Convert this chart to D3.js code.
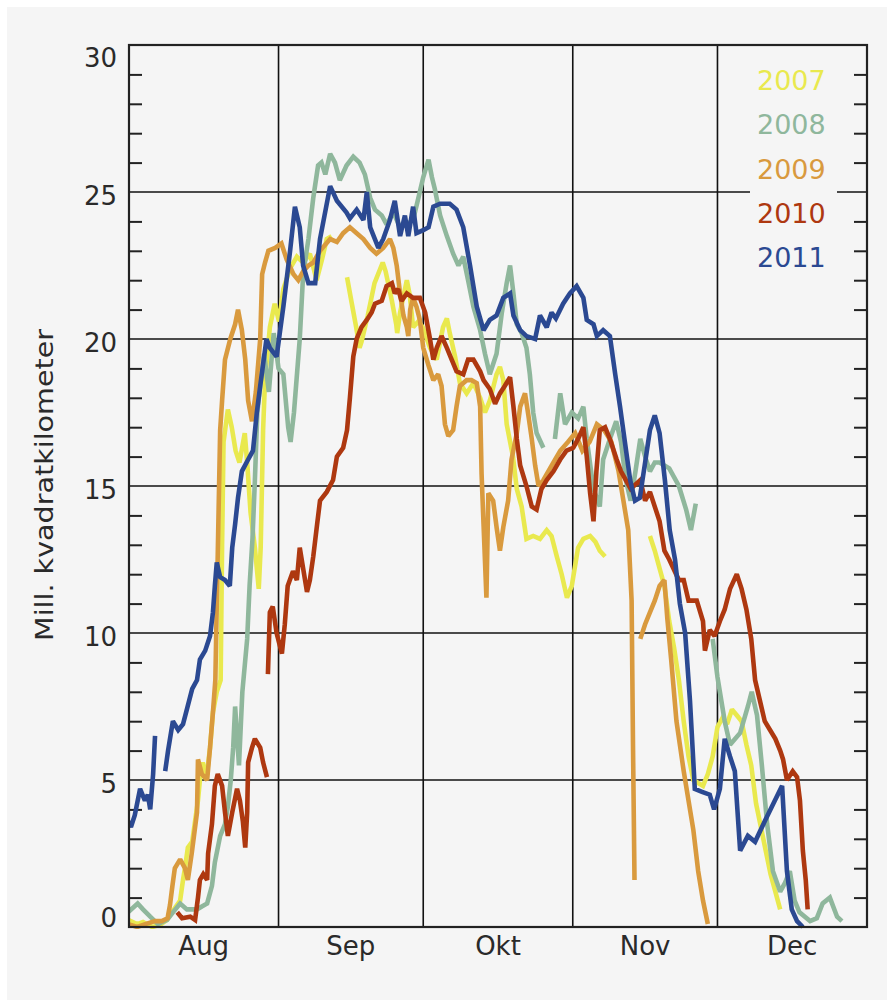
<!DOCTYPE html>
<html><head><meta charset="utf-8">
<script src="https://cdn.jsdelivr.net/npm/d3@7"></script>
<style>
html,body{margin:0;padding:0;background:#fff;}
svg{display:block;}
text{font-family:"DejaVu Sans",sans-serif;}
</style></head>
<body>
<svg id="chart" width="887" height="1000"></svg>
<script>
const months = ["Aug","Sep","Okt","Nov","Dec"];
const monthDays = [31,30,31,30,31];
const years = ["2007","2008","2009","2010","2011"];
const colors = ["#e9e94e","#8fb79c","#d99a3e","#ae3810","#2b4992"];
const yMajor = [0,5,10,15,20,25,30];
const yTitle = "Mill. kvadratkilometer";

const s2007 = [[-0.2,0.24],[1.7,0.1],[2.9,0.17],[4.8,0],[6.4,0.07],[7.9,0.24],[8.9,0.5],[10.6,0.9],[11.2,1.6],[11.6,2],[12.2,2.7],[13.1,2.9],[13.7,3.6],[14.3,4.3],[14.7,5],[15.3,5.6],[16,5.0],[16.8,6.1],[17.4,7.3],[18.2,8],[19,8.4],[19.3,13],[19.6,16.5],[20.5,17.6],[21.3,17],[22.1,16.2],[22.9,15.8],[24,16.8],[24.5,15.8],[25.2,14.1],[26.1,12.9],[26.9,11.5],[27.3,12.9],[27.8,16.9],[28.2,18.6],[29.2,20.4],[30.2,21.2],[31.1,20.6],[32,21.7],[33.4,22.4],[34.8,22.8],[36.1,22.6],[37.5,22.9],[38.9,22.0],[40,22.7],[41,23.4],[42,23.5],[43,null],[45.2,22.1],[46.2,21.2],[47.1,20.4],[47.8,19.7],[48.2,19.9],[49.5,20.8],[50.9,21.9],[52.6,22.6],[53.2,22.3],[54.5,21.3],[55.4,20.5],[55.6,20.2],[56.2,20.9],[57.6,22.0],[58.2,21.5],[58.9,20.4],[60,20.6],[60.9,20.4],[62.4,19.7],[63.8,19.3],[65.1,20.4],[65.9,20.7],[66.5,20.2],[67.6,19.4],[68.6,18.5],[70,18.15],[71.4,18.5],[72.8,18.0],[73.8,17.5],[74.8,17.9],[76.2,18.8],[76.9,19.05],[77.6,18.6],[78.3,17.1],[79.6,16],[80.4,14.9],[81.4,14.3],[82.4,13.2],[83.8,13.3],[85.2,13.2],[86.6,13.5],[87.6,13.3],[88.7,12.6],[89.7,12],[90.8,11.2],[91.8,11.6],[93.1,12.9],[94.2,13.2],[95.6,13.3],[96.7,13.1],[97.6,12.8],[98.7,12.6],[100,null],[108,13.3],[109,12.8],[110,12.2],[111,11.6],[112,10.4],[113,9.5],[114,8.4],[115,7],[116,5.8],[117,5],[118,4.9],[119,4.8],[120,5.2],[121,5.8],[122,6.8],[123,7.1],[124,6.9],[125,7.4],[126,7.2],[127,7.0],[128,6.2],[129,5.5],[130,4.2],[131,3.4],[132,2.6],[133,1.8],[134,1.2],[135,0.6]];

const s2008 = [[-0.2,0.5],[1.8,0.8],[2.9,0.6],[4.4,0.35],[6,0.1],[7.9,0.24],[9.1,0.5],[10.6,0.8],[12,0.6],[14.1,0.6],[15.1,0.7],[16.2,0.8],[17.2,1.4],[17.8,2.2],[18.9,3.1],[19.9,3.5],[20.5,4.1],[21.1,5],[21.6,6.1],[22,7.5],[22.8,5.5],[23.5,8],[24.5,9.8],[25,11.6],[25.6,13.2],[26.1,15.2],[26.6,17.5],[27.2,18.4],[28,19.5],[29,18.2],[30,20.2],[31,19],[32,18.8],[33,17],[33.5,16.5],[34.2,17.5],[35.4,20],[36.1,22.2],[37.2,23.4],[38.2,24.8],[39.2,25.9],[39.9,26],[40.7,25.6],[41.7,26.3],[42.7,26],[43.7,25.4],[45.1,25.9],[46.5,26.2],[47.8,26],[48.9,25.6],[50,24.8],[51,24.4],[52.4,24.2],[53.4,23.9],[54.8,24.3],[56.2,23.8],[57.6,23.9],[58.9,24.05],[60,24.8],[61,25.5],[62.1,26.1],[62.8,25.5],[63.4,25.1],[64.5,24.2],[65.9,23.5],[67.2,22.9],[68.3,22.5],[69.3,22.8],[70.3,22],[71.4,21.1],[72.8,20.3],[73.8,19.5],[74.8,18.8],[76.2,19.5],[77.3,20.9],[78.3,21.9],[79,22.5],[79.7,21.55],[80.4,20.5],[81.4,20.2],[82.4,19.7],[83.1,18.8],[83.8,17.5],[84.5,16.8],[85.9,16.3],[87,null],[88.3,16.6],[89.4,18.15],[90.4,17.1],[91.8,17.5],[93.1,17.3],[94.2,17.7],[94.9,16.6],[96.3,14.9],[97.6,14.3],[98.3,15.9],[99.7,16.6],[101,17.2],[102,16.5],[103,15.2],[104,14.5],[105,15.5],[106,16.6],[107,16],[108,15.5],[109,15.8],[110,15.8],[112,15.6],[114,15],[115.5,14.2],[116.5,13.5],[117.5,14.4],[119,null],[121,9.8],[122,8.5],[123.5,7],[124.6,6.2],[126.7,6.6],[128.3,7.5],[129.1,8],[130.2,7.2],[131.2,5.5],[132.3,3.5],[133.5,1.9],[135,1.2],[136,1.5],[137,1.9],[138,0.9],[139,0.5],[141.2,0.2],[142.6,0.3],[143.8,0.8],[145.3,1.0],[146.8,0.35],[147.8,0.2]];

const s2009 = [[-0.2,0.1],[1.7,0],[3.4,0.1],[5.4,0.2],[6.8,0.2],[8,0.3],[8.5,0.75],[9,1.4],[9.5,2.0],[10.6,2.3],[11.6,2.0],[12.2,1.6],[13,2.5],[14.1,3.9],[14.3,5.7],[15.1,5.2],[16.2,5.0],[16.8,6.1],[17.4,7.3],[17.9,8.4],[18.2,11],[18.9,16.9],[19.3,17.9],[19.9,19.3],[21,20],[22,20.5],[22.6,21],[23.4,20.3],[24.1,19.3],[24.7,17.9],[25.5,17.2],[26.3,18.2],[27.2,20.0],[27.6,22.2],[28.2,22.6],[28.9,23.0],[30.3,23.1],[31.6,23.25],[32.7,22.7],[34.1,22.2],[35.1,22],[36.1,22.3],[37.2,22.5],[38.2,22.6],[39.6,23],[41.7,23.4],[43.1,23.3],[44.4,23.6],[45.8,23.8],[47.2,23.6],[48.6,23.4],[50,23.1],[51.3,22.9],[52.7,23.1],[54.1,23.4],[54.8,23.1],[55.5,22.5],[56.2,21.55],[56.9,20.8],[57.6,20.4],[57.9,20.1],[58.3,21.0],[58.9,21.4],[59.6,21.1],[60.3,20.65],[61,19.7],[62.1,19.1],[63.1,18.6],[64.1,18.8],[64.8,18.4],[65.5,17.1],[66.2,16.7],[67.2,16.9],[67.9,17.7],[68.6,18.4],[70,18.6],[71,18.6],[72.1,18.5],[72.8,17.7],[73.1,15.4],[73.5,13.7],[74.1,11.2],[74.5,14.75],[75.5,14.5],[76.2,13.6],[76.9,12.8],[77.6,13.6],[78.6,14.5],[79.3,15.9],[80.4,16.8],[81.1,17.7],[82.1,18.15],[82.8,17.4],[83.5,16.6],[84.2,15.7],[84.9,15],[85.9,15.2],[86.6,15.4],[88,15.8],[89.4,16.2],[91,16.5],[92.5,16.8],[94,16.2],[95.5,16.5],[97,17.1],[98.5,16.9],[100,16.5],[101.5,15.5],[102.5,14.5],[103.5,13.5],[104.2,11.1],[104.5,6],[104.8,1.6],[105.4,null],[106,9.8],[107,10.3],[108,10.7],[109,11.1],[110,11.6],[111,11.8],[111.6,10.5],[112.4,9.1],[113.5,7],[115,5.3],[116,4.3],[117,3.3],[118,1.9],[119,0.9],[120,0.1]];

const s2010 = [[10,0.5],[11,0.3],[12.7,0.35],[13.7,0.24],[14.3,1.0],[14.7,1.6],[15.4,1.8],[16.2,1.6],[16.4,2.5],[17.2,3.5],[17.8,4.8],[18.4,5.2],[19.3,4.8],[19.9,3.9],[20.5,3.1],[21.4,3.9],[22.4,4.7],[23,4.3],[23.6,3.6],[24.1,2.7],[24.5,3.9],[24.7,5.6],[25.5,6.1],[26.1,6.4],[27.2,6.1],[27.8,5.6],[28.6,5.1],[28.7,null],[28.8,8.6],[29.2,10.7],[29.8,10.9],[30.6,10.0],[31.7,9.3],[32.3,10.3],[32.9,11.6],[34,12.1],[34.8,11.8],[35.4,12.9],[36.1,12.2],[36.9,11.4],[37.5,11.8],[38.2,12.6],[39,13.7],[39.6,14.5],[41,14.8],[42.3,15.2],[43.1,16.0],[44.4,16.3],[45.2,16.9],[45.8,18.0],[46.5,19.4],[47.2,20],[48.2,20.4],[49.3,20.65],[50.3,20.9],[51,21.2],[52.4,21.3],[53.4,21.8],[54.5,21.9],[55.1,21.55],[55.8,21.7],[56.5,21.3],[57.6,21.55],[58.9,21.4],[60.3,21.4],[61.4,20.9],[62.4,20],[63.1,19.3],[63.8,19.7],[64.8,20.1],[65.9,19.7],[66.9,19.3],[67.9,18.9],[69.3,18.8],[70.3,19.3],[71.4,19.3],[72.8,18.9],[73.5,18.6],[74.8,18.3],[75.9,17.8],[76.9,18.15],[77.9,18.4],[79,18.7],[79.7,17.7],[80.4,16.6],[81.1,15.7],[82.4,15.0],[83.5,14.3],[84.5,14.2],[85.5,14.9],[86.6,15.2],[88,15.5],[89.4,15.9],[90.7,16.2],[92.1,16.3],[93.1,16.6],[94.2,17.0],[94.9,16.0],[95.6,14.75],[96.3,13.8],[96.9,15.5],[97.6,16.9],[98.7,17.0],[99.7,16.6],[101.1,15.9],[102,15.5],[103,15.2],[104,14.9],[106,15.2],[107,14.5],[108,14.8],[110,13.8],[111,12.8],[112,12.5],[114,11.8],[115,11.8],[116,11.1],[117.7,11.1],[119,10.4],[119.4,9.4],[120.4,10.1],[121.4,9.9],[122.5,10.4],[123.5,10.8],[124.6,11.5],[126,12],[127,11.5],[128,10.8],[129,9.8],[129.8,8.4],[130.8,7.7],[131.8,7.0],[132.9,6.7],[134,6.4],[135,6.0],[135.6,5.7],[136.4,5.0],[137.6,5.3],[138.5,5.1],[139.1,4.3],[139.7,2.6],[140.3,1.6],[140.7,0.6]];

const s2011 = [[-0.2,3.6],[0.4,3.4],[1.2,3.8],[2.3,4.7],[3.3,4.3],[3.9,4.5],[4.4,4.0],[5.0,5.2],[5.4,6.5],[6.5,null],[7.5,5.3],[8.1,6],[9.1,7.0],[10.2,6.7],[11.2,6.9],[12,7.4],[13.1,8.1],[14.1,8.4],[14.7,9.1],[15.8,9.4],[16.8,9.9],[17.4,10.7],[17.8,11.6],[18.2,12.4],[18.9,11.9],[19.9,11.8],[20.9,11.6],[21.4,12.9],[22,13.7],[22.6,14.6],[23.4,15.5],[24.7,15.9],[25.7,16.2],[26.5,17.5],[27.2,18.4],[28.5,20],[29.2,19.7],[30.6,19.4],[32,21.1],[33.4,23.0],[34.4,24.5],[35.4,23.8],[36.1,22.5],[37.2,21.9],[38.6,21.9],[39.6,23.4],[41.7,25.2],[43.1,24.7],[45.1,24.3],[45.8,24.1],[47.2,24.4],[48.6,24.05],[49.3,25],[50,23.8],[51.7,23.1],[52.7,23.4],[54.1,24.05],[55.1,24.7],[56.2,23.5],[57.2,24.2],[57.9,23.5],[58.9,24.5],[59.6,23.6],[61,23.7],[62.1,23.8],[63.1,24.5],[64.5,24.6],[66.5,24.6],[67.9,24.4],[69.3,23.8],[70.7,22.5],[72.1,21.1],[73.5,20.3],[74.8,20.65],[76.2,20.8],[77.6,21.4],[79,21.55],[79.7,20.8],[81.1,20.3],[82.4,20.1],[84.2,20.0],[85.2,20.8],[86.6,20.4],[87.6,20.9],[88.5,20.7],[90,21.2],[91.4,21.55],[92.8,21.8],[94.2,21.4],[94.9,20.65],[96.3,20.5],[97,20.1],[98.3,20.3],[99.7,20.1],[100.8,18.8],[101.8,17.7],[102.8,16.5],[103.9,15.2],[104.9,14.5],[105.9,14.6],[107,15.8],[108,16.9],[109,17.4],[110,16.8],[111.1,15.2],[112.1,13.5],[113.2,12.5],[114.2,11],[115.3,10],[116.3,7.7],[117.3,4.7],[118.8,4.6],[120.4,4.5],[121.3,4.0],[122.5,4.7],[123.5,6.4],[124.6,5.8],[125.6,5.3],[126.7,2.6],[128.3,3.1],[129.8,2.9],[131.8,3.6],[133.9,4.3],[135.4,4.8],[136.4,1.9],[137.4,0.6],[138.5,0.2],[139.7,0]];

const series = [s2007, s2008, s2009, s2010, s2011];

const svg = d3.select("#chart");
const L = 129, R = 867, T = 45, B = 927;
const totalDays = d3.sum(monthDays);
const x = d3.scaleLinear().domain([0, totalDays]).range([L, R]);
const y = d3.scaleLinear().domain([0, 30]).range([B, T]);

// panel background
svg.append("rect").attr("x",7).attr("y",7).attr("width",880).attr("height",993).attr("fill","#f5f5f5");

// month boundaries
const monthStarts = d3.cumsum([0].concat(monthDays)).slice(0, months.length + 1);
const inner = monthStarts.slice(1, -1);

// grid
const grid = svg.append("g").attr("stroke","#111").attr("stroke-width",1.6);
grid.selectAll("line.h").data(yMajor.filter(v => v > 0 && v < 30)).join("line")
  .attr("x1", L).attr("x2", R).attr("y1", d => y(d)).attr("y2", d => y(d));
grid.selectAll("line.v").data(inner).join("line").attr("class","v")
  .attr("x1", d => x(d)).attr("x2", d => x(d)).attr("y1", T).attr("y2", B);

// minor ticks (inward) left & right
const minor = d3.range(1, 30).filter(v => v % 5 !== 0);
const leftAx = svg.append("g").attr("transform", `translate(${L},0)`)
  .call(d3.axisRight(y).tickValues(minor).tickSize(13).tickFormat(""));
const rightAx = svg.append("g").attr("transform", `translate(${R},0)`)
  .call(d3.axisLeft(y).tickValues(minor).tickSize(13).tickFormat(""));
[leftAx, rightAx].forEach(g => {
  g.select(".domain").remove();
  g.selectAll(".tick line").attr("stroke","#222").attr("stroke-width",2);
});

// legend background box (hides grid line)
svg.append("rect").attr("x",750).attr("y",52).attr("width",87).attr("height",225).attr("fill","#f5f5f5");

// series lines
const line = d3.line().defined(d => d[1] !== null)
  .x(d => x(d[0])).y(d => y(d[1]));
svg.append("clipPath").attr("id","pclip").append("rect")
  .attr("x", L).attr("y", T).attr("width", R - L).attr("height", B - T + 2);
svg.append("g").attr("clip-path","url(#pclip)")
  .selectAll("path").data(series).join("path")
  .attr("d", line).attr("fill","none")
  .attr("stroke", (d,i) => colors[i]).attr("stroke-width", 4.6)
  .attr("stroke-linejoin","miter").attr("stroke-miterlimit",2);

// frame
svg.append("rect").attr("x", L).attr("y", T).attr("width", R - L).attr("height", B - T)
  .attr("fill","none").attr("stroke","#222").attr("stroke-width",2.2);

// y labels
svg.append("g").selectAll("text").data(yMajor).join("text")
  .attr("x", 117).attr("y", d => Math.min(Math.max(y(d) + 13, 67), 927))
  .attr("text-anchor","end").attr("font-size",26).attr("fill","#2a2a2a")
  .text(d => d);

// x labels
svg.append("g").selectAll("text").data(months).join("text")
  .attr("x", (d,i) => x((monthStarts[i] + monthStarts[i+1]) / 2))
  .attr("y", 955).attr("text-anchor","middle").attr("font-size",26).attr("fill","#2a2a2a")
  .text(d => d);

// y title
svg.append("text").attr("transform","translate(53,485) rotate(-90)")
  .attr("text-anchor","middle").attr("font-size",25).attr("fill","#2a2a2a")
  .attr("textLength",312).attr("lengthAdjust","spacingAndGlyphs").text(yTitle);

// legend
svg.append("g").selectAll("text").data(years).join("text")
  .attr("x", 757).attr("y", (d,i) => 90 + i * 44.3)
  .attr("font-size",27).attr("fill",(d,i) => colors[i]).text(d => d);
</script>
</body></html>
